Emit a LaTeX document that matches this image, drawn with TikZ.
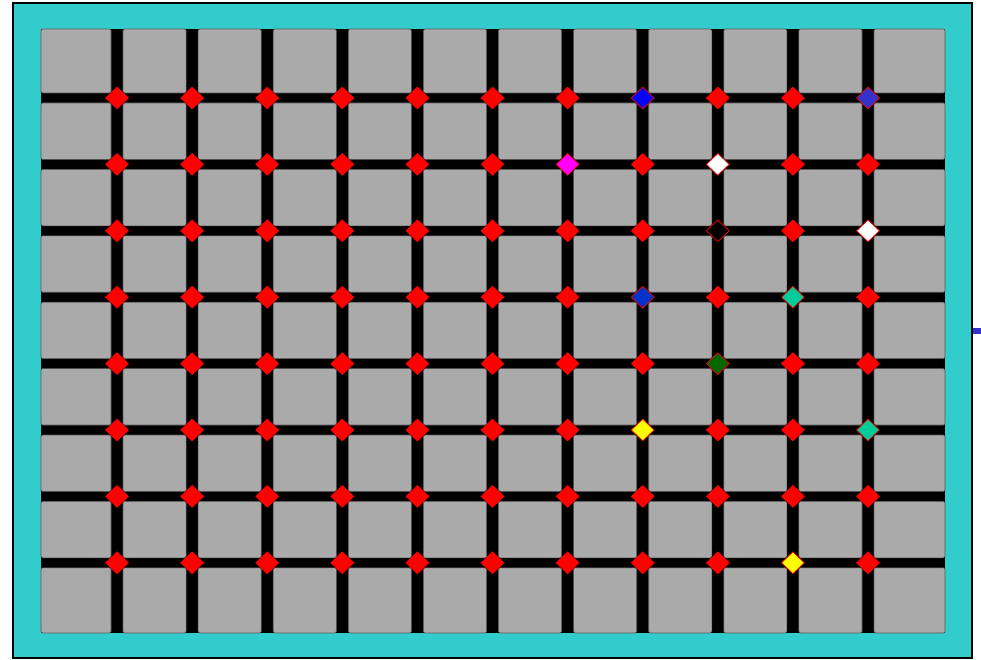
\documentclass[tikz,border=0pt]{standalone}
\usetikzlibrary{shapes.geometric}

\definecolor{frameteal}{RGB}{51,204,204}
\definecolor{tilegray}{RGB}{170,170,170}
\definecolor{tileedge}{RGB}{90,90,90}
\definecolor{jblue}{RGB}{0,0,255}
\definecolor{jslate}{RGB}{51,51,204}
\definecolor{jmagenta}{RGB}{255,0,255}
\definecolor{jroyal}{RGB}{0,51,204}
\definecolor{jteal}{RGB}{0,204,153}
\definecolor{jgreen}{RGB}{0,102,0}
\definecolor{jyellow}{RGB}{255,255,0}

\begin{document}
\begin{tikzpicture}[
  x=1pt, y=-1pt,
  tile/.style     = {fill=tilegray, draw=tileedge, line width=0.6pt, rounded corners=1.5pt},
  junction/.style = {diamond, draw=red, fill=red, line width=0.7pt,
                     inner sep=0pt, minimum width=23pt, minimum height=22pt},
]

%% ── Grid geometry (pixel units) ──────────────────────────────────────────────
\def\xA{117}    % first vertical street
\def\dx{75.1}   % street spacing, x
\def\yA{98}     % first horizontal street
\def\dy{66.4}   % street spacing, y

\useasboundingbox (0,0) rectangle (981,660);

%% ── Outer frame ──────────────────────────────────────────────────────────────
\draw[fill=frameteal, line width=2pt] (13,3) rectangle (972,658);
\fill[jslate] (973,328) rectangle (981,334);

%% ── Streets (black field) ────────────────────────────────────────────────────
\fill[black] (41,29) rectangle (945,633);

%% ── Blocks: 12 x 9 tiles ─────────────────────────────────────────────────────
\foreach \c in {0,...,11}{
  \foreach \r in {0,...,8}{
    \pgfmathsetmacro\tl{\c==0  ? 41  : \xA+(\c-1)*\dx+6}
    \pgfmathsetmacro\tr{\c==11 ? 945 : \xA+\c*\dx-6}
    \pgfmathsetmacro\tt{\r==0  ? 29  : \yA+(\r-1)*\dy+5}
    \pgfmathsetmacro\tb{\r==8  ? 633 : \yA+\r*\dy-5}
    \draw[tile] (\tl,\tt) rectangle (\tr,\tb);
  }
}

%% ── Coloured junctions (row/column/fill) ─────────────────────────────────────
\foreach \r/\c/\col in {1/8/jblue, 1/11/jslate, 2/7/jmagenta, 2/9/white,
                        3/9/black, 3/11/white, 4/8/jroyal, 4/10/jteal,
                        5/9/jgreen, 6/8/jyellow, 6/11/jteal, 8/10/jyellow}{
  \expandafter\xdef\csname jc-\r-\c\endcsname{\col}
}

%% ── Junctions: 8 x 11 diamonds ───────────────────────────────────────────────
\foreach \r in {1,...,8}{
  \foreach \c in {1,...,11}{
    \ifcsname jc-\r-\c\endcsname
      \edef\jfill{\csname jc-\r-\c\endcsname}
    \else
      \def\jfill{red}
    \fi
    \node[junction, fill=\jfill] (j-\r-\c)
      at ({\xA+(\c-1)*\dx}, {\yA+(\r-1)*\dy}) {};
  }
}

\end{tikzpicture}
\end{document}
